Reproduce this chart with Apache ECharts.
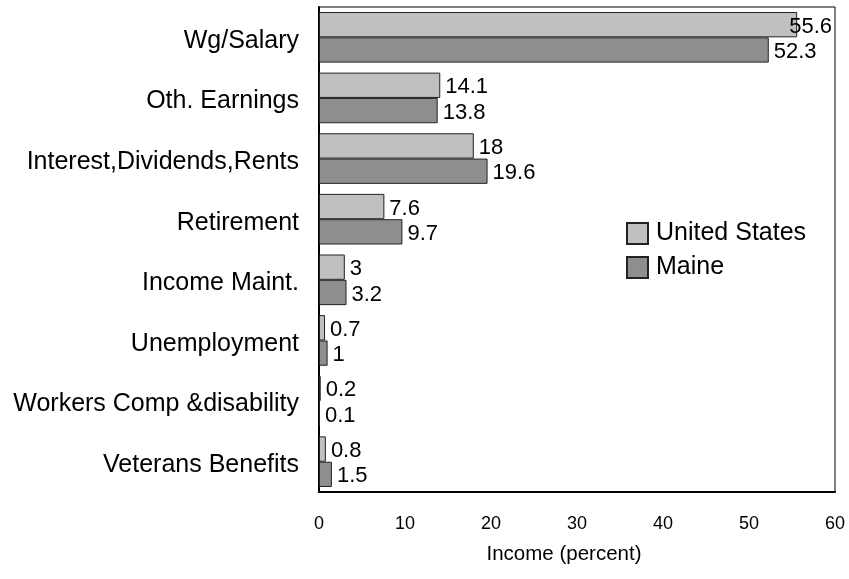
<!DOCTYPE html>
<html>
<head>
<meta charset="utf-8">
<script src="https://cdn.jsdelivr.net/npm/echarts@6/dist/echarts.min.js"></script>
<style>
html,body{margin:0;padding:0;background:#fff;}
#chart{width:849px;height:579px;}
</style>
</head>
<body>
<div id="chart"></div>
<script>
var categories = ["Wg/Salary", "Oth. Earnings", "Interest,Dividends,Rents", "Retirement", "Income Maint.", "Unemployment", "Workers Comp &disability", "Veterans Benefits"];
var unitedStates = [55.6, 14.1, 18, 7.6, 3, 0.7, 0.2, 0.8];
var maine = [52.3, 13.8, 19.6, 9.7, 3.2, 1, 0.1, 1.5];
var seriesNames = ["United States", "Maine"];
var xTicks = [0, 10, 20, 30, 40, 50, 60];

var FONT = '"Liberation Sans", Arial, sans-serif';
var xMax = xTicks[xTicks.length - 1];

function mkData(arr) {
  return arr.map(function (v) {
    // labels that would run past the frame are pulled back inside
    if (v > xMax * 0.9) return { value: v, label: { offset: [-13, 2] } };
    return v;
  });
}

var chart = echarts.init(document.getElementById('chart'), null, { renderer: 'canvas' });
chart.setOption({
  backgroundColor: '#fff',
  animation: false,
  textStyle: { fontFamily: FONT },
  grid: { left: 319, right: 14, top: 7, bottom: 87, show: true, borderColor: '#000', borderWidth: 1, containLabel: false },
  legend: {
    data: seriesNames,
    orient: 'vertical',
    left: 621,
    top: 216,
    itemWidth: 21,
    itemHeight: 21,
    itemGap: 9,
    icon: 'rect',
    textStyle: { fontSize: 25, color: '#000', fontFamily: FONT, padding: [0, 0, 0, 3] }
  },
  xAxis: {
    type: 'value',
    min: xTicks[0],
    max: xMax,
    interval: xTicks[1] - xTicks[0],
    splitLine: { show: false },
    axisLine: { show: true, lineStyle: { color: '#000', width: 2 } },
    axisTick: { show: false },
    axisLabel: { fontSize: 18, color: '#000', margin: 23, fontFamily: FONT },
    name: 'Income (percent)',
    nameLocation: 'middle',
    nameGap: 52,
    nameTextStyle: { fontSize: 20.5, color: '#000', fontFamily: FONT, padding: [0, 26, 0, 0] }
  },
  yAxis: {
    type: 'category',
    data: categories,
    inverse: true,
    axisLine: { show: true, lineStyle: { color: '#000', width: 2 } },
    axisTick: { show: false },
    axisLabel: {
      color: '#000', margin: 20, fontFamily: FONT, fontSize: 25,
      formatter: function (v) { return '{c|' + v + '}'; },
      rich: { c: { fontSize: 25, color: '#000', fontFamily: FONT, padding: [7, 0, 0, 0] } }
    }
  },
  series: [
    {
      name: seriesNames[0],
      type: 'bar',
      data: mkData(unitedStates),
      barGap: '0%',
      barCategoryGap: '16.5%',
      itemStyle: { color: '#c0c0c0', borderColor: '#222', borderWidth: 1 },
      label: { show: true, position: 'right', distance: 5, offset: [0, 2], fontSize: 22, color: '#000', fontFamily: FONT }
    },
    {
      name: seriesNames[1],
      type: 'bar',
      data: mkData(maine),
      barGap: '0%',
      barCategoryGap: '16.5%',
      itemStyle: { color: '#8e8e8e', borderColor: '#222', borderWidth: 1 },
      label: { show: true, position: 'right', distance: 5, offset: [0, 2], fontSize: 22, color: '#000', fontFamily: FONT }
    }
  ]
});
</script>
</body>
</html>
